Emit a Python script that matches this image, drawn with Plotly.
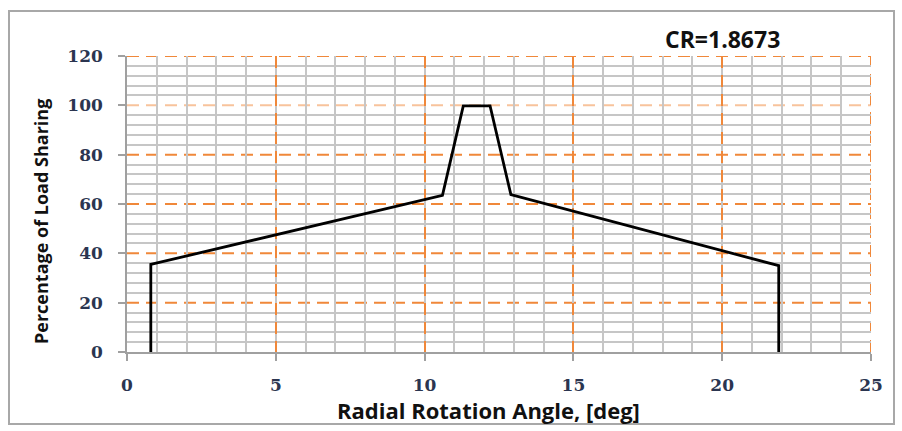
import plotly.graph_objects as go

# Data
angle_deg = [0.8, 0.8, 10.6, 11.3, 12.2, 12.9, 21.9, 21.9]
load_share_pct = [0, 35.5, 63.5, 99.8, 99.8, 63.8, 35.0, 0]

x_ticks = [0, 5, 10, 15, 20, 25]
y_ticks = [0, 20, 40, 60, 80, 100, 120]
title_text = "CR=1.8673"
x_title = "Radial Rotation Angle, [deg]"
y_title = "Percentage of Load Sharing"

W, H = 902, 431
L, R, T, B = 127, 31, 56, 79
pw, ph = W - L - R, H - T - B

def px_to_paper_x(px):
    return (px - L) / pw

def px_to_paper_y(py):
    return (H - B - py) / ph

tick_font = dict(family="DejaVu Serif, serif", size=17, color="#2b3550", weight="bold")
title_family = "Open Sans, sans-serif"
orange = "#f0883a"
peach = "#f8c39c"
grey = "#c6c6c6"
dash_style = "12px,7px"

y_minor_vals = [v for v in range(0, 121, 4) if v % 20]

fig = go.Figure()
fig.add_trace(go.Scatter(
    x=angle_deg, y=load_share_pct, mode="lines",
    line=dict(color="black", width=2.8), showlegend=False, hoverinfo="skip"))

fig.update_xaxes(
    range=[0, 25], tickvals=x_ticks, ticktext=[str(v) for v in x_ticks],
    showgrid=True, gridcolor=orange, griddash=dash_style, gridwidth=2,
    minor=dict(dtick=1, showgrid=True, gridcolor=grey, gridwidth=1.8, griddash="solid"),
    showline=True, linecolor="#a0a0a0", linewidth=1.5,
    ticks="outside", ticklen=7, tickcolor="#a0a0a0", tickwidth=1.5,
    zeroline=False, tickfont=tick_font, ticklabelstandoff=10,
)
fig.update_yaxes(
    range=[0, 120], tickvals=y_ticks, ticktext=[str(v) for v in y_ticks],
    showgrid=False,
    minor=dict(tickvals=y_minor_vals, showgrid=True, gridcolor=grey, gridwidth=1.8, griddash="solid"),
    showline=True, linecolor="#a0a0a0", linewidth=1.5,
    ticks="outside", ticklen=7, tickcolor="#a0a0a0", tickwidth=1.5,
    zeroline=False, tickfont=tick_font, ticklabelstandoff=12,
)

shapes = []
for v in y_ticks[1:]:
    shapes.append(dict(type="line", xref="paper", yref="y", x0=0, x1=1, y0=v, y1=v,
                       line=dict(color=peach if v == 100 else orange, width=2, dash=dash_style),
                       layer="between"))
shapes.append(dict(type="line", xref="x", yref="paper", x0=x_ticks[-1], x1=x_ticks[-1], y0=0, y1=1,
                   line=dict(color=orange, width=2, dash=dash_style), layer="between"))
shapes.append(dict(type="rect", xref="paper", yref="paper",
                   x0=px_to_paper_x(9), x1=px_to_paper_x(894),
                   y0=px_to_paper_y(424), y1=px_to_paper_y(11),
                   line=dict(color="#a8a8a8", width=2), fillcolor="rgba(0,0,0,0)", layer="below"))

fig.update_layout(
    width=W, height=H, margin=dict(l=L, r=R, t=T, b=B),
    paper_bgcolor="white", plot_bgcolor="white",
    annotations=[
        dict(text="<b>" + title_text + "</b>", xref="paper", yref="paper",
             x=px_to_paper_x(722), y=px_to_paper_y(39), xanchor="center", yanchor="middle",
             showarrow=False, font=dict(family=title_family, size=23, color="#111111")),
        dict(text="<b>" + x_title + "</b>", xref="paper", yref="paper",
             x=px_to_paper_x(488), y=px_to_paper_y(410), xanchor="center", yanchor="middle",
             showarrow=False, font=dict(family=title_family, size=22, color="#111111")),
        dict(text="<b>" + y_title + "</b>", xref="paper", yref="paper", textangle=-90,
             x=px_to_paper_x(41), y=px_to_paper_y(222), xanchor="center", yanchor="middle",
             showarrow=False, font=dict(family=title_family, size=18, color="#111111")),
    ],
    shapes=shapes,
)

fig.write_html("out.html")
